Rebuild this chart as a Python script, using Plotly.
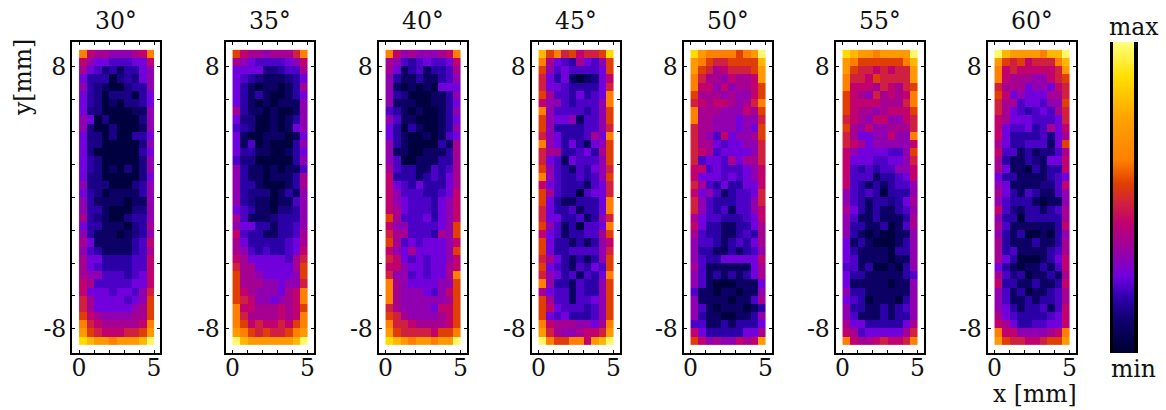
import plotly.graph_objects as go

ANGLES = ["30°", "35°", "40°", "45°", "50°", "55°", "60°"]

# Intensity grade of each pixel, one hex digit per cell, top row first
P30 = ["b87766678b","8655444558","7542313356","5333023256","6321002336","5320222035","5320102235","5220000116","6502000026",
       "6200200016","5220200335","5220000026","5200000035","5320000026","5320102026","5220000025","6222000236","5320111136",
       "6311110116","6331000226","7321002336","5331110237","6311101236","7511111348","6431111347","7553333448","7543333448",
       "7664443458","8744444558","8555455469","975555456a","975555567a","a87666677a","b98777778b","ca988899ac","edccbcccdf"]
P35 = ["a87767779b","7654444568","5555223447","5432111235","5310110137","5313100135","5310101116","7311010016","5220010136",
       "4320010156","5100111015","5140100036","5331100135","4220000036","6311010114","6311011137","6331000137","6322201316",
       "6321101146","5431102236","7411123336","6553313346","8433113347","7533333457","7643433458","8755555479","977555557a",
       "a77655556a","a777665669","a87666578b","a98665678b","b88777878a","b97777878b","ba898898ab","cba9a99abc","fdccccccdf"]
P40 = ["b86766678b","7643454458","7513413347","6311311346","6101010555","6320001136","6111001135","4310100136","6411000135",
       "5303100136","5310010145","6310000317","6110011137","6400111337","7433114347","8333134357","8543533357","8644433458",
       "8654443568","8754443568","a744453568","866444456a","977444376a","a745455568","865755556a","9854545568","8865545578",
       "966454557b","b76555566a","b76665468a","b76666667a","976666588a","a97666678a","b99877778a","ca99998aab","edcbccbccf"]
P45 = ["dab9a899ae","b75437546a","a64544445a","9535101258","9554333359","a74435345b","866434446b","b64444346a","a65561446a",
       "a633334469","965333475b","b65353156a","977334537a","954154446a","a643143569","b64334346a","8543331459","a743304559",
       "a53113335b","953341335b","9553341369","a64130445b","854133447a","a533131368","a533444469","975313136a","a54314354a",
       "965341435b","b63314336a","754414336a","a74414456a","a85444346a","a54533346a","b87776657b","c97667889c","fbaabb8cdf"]
P50 = ["ecbbbbabcf","cba99aaaad","ca978999ac","b97768778c","b88686778a","a77767668a","987887679b","b77766687a","b776665669",
       "977666565a","976485667a","9775455669","9874555569","9455475779","8845444568","8555454568","9743533558","8564134459",
       "9643334469","9643414468","7544333458","8533113357","7433113437","6443134357","6331131346","6433555558","7411111157",
       "6413131357","6410001115","4110110116","6111101147","6410111013","6311001136","4411313335","8533333557","a86766878c"]
P55 = ["edccbccccf","cbaaaaaabd","ca9989899c","b998a9999c","b88879879a","a87697878b","a88887779b","a87767888a","9876886689",
       "a768667779","975566866b","9875666668","865555446a","8555445569","8434344668","8444133458","8431313446","6434303336",
       "6431332357","7531311346","6411311137","6331130147","6310100116","5131000136","5311110336","5411110116","4413001036",
       "5331111134","5111110116","6331111116","5430111036","6331131346","6411131336","7553333357","8745555579","b87789889b"]
P60 = ["fdccccbddf","ca9a8999bd","b89888889c","b87776689a","9777566589","a856555779","977455466a","9754345479","8755544459",
       "8544534758","8533334257","753344415a","8441312247","7311321558","7511031338","5331111345","6511112248","7531431146",
       "6433310116","8421331347","6330333337","7411111138","6313001036","7311131137","7341111347","7530001358","5310113148",
       "7423011317","8331131138","6413011347","6411313347","6531334148","7543333458","8753344558","b88666678b","ca99889aac"]
PANELS = [P30, P35, P40, P45, P50, P55, P60]

# Grade digit -> normalised intensity read against the colour bar
GRADES = [0.03, 0.09, 0.13, 0.17, 0.21, 0.25, 0.31, 0.36, 0.42, 0.48, 0.54, 0.62, 0.72, 0.80, 0.88, 0.98]

X_EDGES = [0, .5, 1, 1.5, 2, 2.5, 3, 3.5, 4, 4.5, 5]
Y_EDGES = [9 - .5 * i for i in range(37)]

COLORSCALE = [[0, "#000030"], [.03, "#000040"], [.107, "#100070"], [.18, "#3000b0"], [.246, "#7000e0"], [.31, "#9000b0"],
              [.417, "#c00070"], [.48, "#d02040"], [.545, "#e04000"], [.62, "#ff8000"], [.75, "#ffa000"], [.89, "#ffe000"],
              [1, "#ffff80"]]

X_TICKS = [0, 1, 2, 3, 4, 5]
X_LABELS = ["0", "", "", "", "", "5"]
Y_TICKS = [-8, -6, -4, -2, 0, 2, 4, 6, 8]
Y_LABELS = ["-8", "", "", "", "", "", "", "", "8"]

W, H = 1166, 410
FRAME_LEFT = [72, 225.5, 378.5, 531.5, 683.5, 835.5, 987.5]
FRAME_W = 88
TOP, BOTTOM = 42, 353
FONT = "DejaVu Serif"
SIZE = 23.5

fig = go.Figure()
layout = {}
for i, (panel, name) in enumerate(zip(PANELS, ANGLES)):
    s = "" if i == 0 else str(i + 1)
    z = [[GRADES[int(c, 16)] for c in row] for row in panel]
    fig.add_trace(go.Heatmap(z=z, x=X_EDGES, y=Y_EDGES, coloraxis="coloraxis", xaxis="x" + s, yaxis="y" + s,
                             xgap=0, ygap=0, hoverinfo="skip"))
    l = FRAME_LEFT[i]
    common = dict(showline=True, linecolor="black", linewidth=2, mirror="ticks", ticks="inside", ticklen=3,
                  tickwidth=1, tickcolor="black", showgrid=False, zeroline=False,
                  tickfont=dict(family=FONT, size=SIZE, color="#111"))
    layout["xaxis" + s] = dict(domain=[l / W, (l + FRAME_W) / W], range=[-0.47, 5.4], tickmode="array",
                               tickvals=X_TICKS, ticktext=X_LABELS, anchor="y" + s, tickangle=0,
                               ticklabelstandoff=-7, **common)
    layout["yaxis" + s] = dict(domain=[1 - BOTTOM / H, 1 - TOP / H], range=[-9.48, 9.48], tickmode="array",
                               tickvals=Y_TICKS, ticktext=Y_LABELS, anchor="x" + s, tickangle=0,
                               ticklabelstandoff=-1, **common)

ann = []
for i, name in enumerate(ANGLES):
    ann.append(dict(text=name, x=(FRAME_LEFT[i] + 44) / W, y=1 - 21 / H, xref="paper", yref="paper", showarrow=False,
                    xanchor="center", yanchor="middle", font=dict(family=FONT, size=SIZE, color="#111")))
for text, x, y, ang in [("y[mm]", 23, 78, -90), ("x [mm]", 1035, 394, 0), ("max", 1134, 27, 0), ("min", 1133, 369, 0)]:
    ann.append(dict(text=text, x=x / W, y=1 - y / H, xref="paper", yref="paper", showarrow=False, textangle=ang,
                    xanchor="center", yanchor="middle", font=dict(family=FONT, size=SIZE, color="#111")))

shapes = [dict(type="rect", xref="paper", yref="paper", x0=a / W, x1=b / W, y0=1 - BOTTOM / H, y1=1 - TOP / H,
               fillcolor="black", line_width=0, layer="above") for a, b in [(1110, 1114), (1133, 1138)]]

fig.update_layout(
    width=W, height=H, margin=dict(l=0, r=0, t=0, b=0), paper_bgcolor="white", plot_bgcolor="white", showlegend=False,
    annotations=ann, shapes=shapes,
    coloraxis=dict(cmin=0, cmax=1, colorscale=COLORSCALE,
                   colorbar=dict(x=1113 / W, xanchor="left", y=1 - BOTTOM / H, yanchor="bottom", len=(BOTTOM - TOP) / H,
                                 thickness=21, thicknessmode="pixels", xpad=0, ypad=0, outlinewidth=0, ticks="",
                                 showticklabels=False)),
    **layout)
fig.write_html("out.html", config={"displayModeBar": False},
               post_script="document.body.style.margin='0';document.documentElement.style.overflow='hidden';")
